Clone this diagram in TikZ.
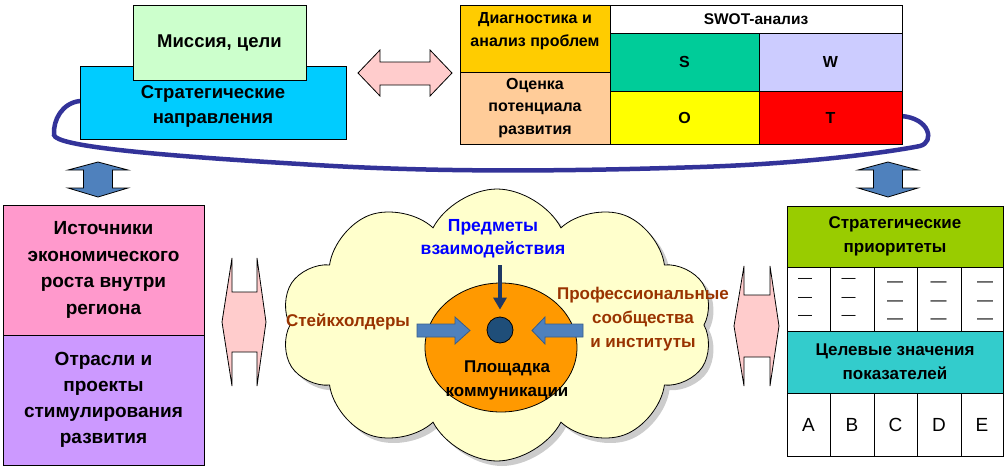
\documentclass[tikz,border=0pt]{standalone}
\usepackage{fontspec}
\setmainfont{Liberation Sans}
\usetikzlibrary{shapes.symbols,shapes.geometric,shadows,arrows.meta}
\definecolor{missionc}{HTML}{CCFFCC}
\definecolor{stratc}{HTML}{00CCFF}
\definecolor{diagc}{HTML}{FFCC00}
\definecolor{ocenc}{HTML}{FFCC99}
\definecolor{sc}{HTML}{00CC99}
\definecolor{wc}{HTML}{CCCCFF}
\definecolor{oc}{HTML}{FFFF00}
\definecolor{tc}{HTML}{FF0000}
\definecolor{istc}{HTML}{FF99CC}
\definecolor{otrc}{HTML}{CC99FF}
\definecolor{pric}{HTML}{99CC00}
\definecolor{celc}{HTML}{33CCCC}
\definecolor{cloudc}{HTML}{FFFFCC}
\definecolor{platc}{HTML}{FF9900}
\definecolor{dotc}{HTML}{1F4E79}
\definecolor{navyc}{HTML}{1F3864}
\definecolor{barrowc}{HTML}{4F81BD}
\definecolor{barrowd}{HTML}{385D8A}
\definecolor{pinkc}{HTML}{FFCCCC}
\definecolor{curvec}{HTML}{333399}
\definecolor{brownc}{HTML}{993300}
\definecolor{bluec}{HTML}{0000FF}
\tikzset{
  cell/.style={draw=black, line width=0.8pt, inner sep=0pt, align=center, font=\bfseries\fontsize{18.5}{25}\selectfont},
  txt/.style={inner sep=0pt, align=center, font=\bfseries\fontsize{17}{24}\selectfont},
  pinkarrow/.style={draw=black, line width=0.8pt, fill=pinkc},
  bluearrow/.style={draw=black, line width=0.8pt, fill=barrowc},
  blockarrow/.style={draw=barrowd, line width=0.8pt, fill=barrowc},
  dashes/.style={inner sep=0pt, align=center, font=\fontsize{14}{18.5}\selectfont},
}
\begin{document}
\begin{tikzpicture}[x=1pt,y=-1pt]
\useasboundingbox (0,0) rectangle (1005,469);

% connecting curve
\coordinate (cstart) at (80,101);
\coordinate (cend) at (901,116);
\draw[curvec, line width=4.5pt, line cap=round]
  (cstart) .. controls (62,103) and (53,120) .. (54,135)
  .. controls (56,146) and (150,155) .. (300,164)
  .. controls (420,172) and (550,172) .. (700,167)
  .. controls (820,163) and (900,150) .. (920,146)
  .. controls (935,142) and (930,118) .. (cend);

% top left
\node[cell, fill=stratc, minimum width=266pt, minimum height=73pt] (strat) at (213,102.5) {\\[-4pt]Стратегические\\направления};
\node[cell, fill=missionc, minimum width=173pt, minimum height=75pt] (mission) at (219.5,42.5) {Миссия, цели};

% top right table
\node[cell, fill=diagc, minimum width=150pt, minimum height=67pt] (diag) at (535,38.5) {};
\node[txt, font=\bfseries\fontsize{16}{23}\selectfont] (diagtxt) at (535,31) {Диагностика и\\анализ проблем};
\node[cell, fill=ocenc, minimum width=150pt, minimum height=72pt, font=\bfseries\fontsize{16}{22.5}\selectfont] (ocen) at (535,108) {Оценка\\потенциала\\развития};
\node[cell, fill=white, minimum width=292pt, minimum height=28pt, font=\bfseries\fontsize{15.5}{20}\selectfont] (swot) at (756,19) {SWOT-анализ};
\node[cell, fill=sc, minimum width=149pt, minimum height=58pt, font=\bfseries\fontsize{16}{20}\selectfont] (S) at (684.5,62) {S};
\node[cell, fill=wc, minimum width=143pt, minimum height=58pt, font=\bfseries\fontsize{16}{20}\selectfont] (W) at (830.5,62) {W};
\node[cell, fill=oc, minimum width=149pt, minimum height=53pt, font=\bfseries\fontsize{16}{20}\selectfont] (O) at (684.5,117.5) {O};
\node[cell, fill=tc, minimum width=143pt, minimum height=53pt, font=\bfseries\fontsize{16}{20}\selectfont] (T) at (830.5,117.5) {T};

% pink horizontal double arrow
\draw[pinkarrow] (358,73) -- (380,50) -- (380,62) -- (430,62) -- (430,50) -- (452,73)
  -- (430,96) -- (430,85) -- (380,85) -- (380,96) -- cycle;

% blue vertical double arrows
\draw[bluearrow] (98,162) -- (128,170) -- (112.5,170) -- (112.5,188) -- (128,188) -- (98,197)
  -- (68,188) -- (83.5,188) -- (83.5,170) -- (68,170) -- cycle;
\draw[bluearrow] (888,162) -- (918,170) -- (902.5,170) -- (902.5,188) -- (918,188) -- (888,197)
  -- (858,188) -- (873.5,188) -- (873.5,170) -- (858,170) -- cycle;

% left boxes
\node[cell, fill=istc, minimum width=201pt, minimum height=130pt, font=\bfseries\fontsize{19}{26.5}\selectfont] (ist) at (103.5,270) {Источники\\экономического\\роста внутри\\региона};
\node[cell, fill=otrc, minimum width=201pt, minimum height=130pt, font=\bfseries\fontsize{19}{26}\selectfont] (otr) at (103.5,400) {Отрасли и\\проекты\\стимулирования\\развития};

% pink vertical-ish double arrows
\draw[pinkarrow] (222,322) -- (232,258) -- (232,292) -- (257,292) -- (257,258) -- (266,322)
  -- (257,386) -- (257,352) -- (232,352) -- (232,386) -- cycle;
\draw[pinkarrow] (734,326) -- (744,266) -- (744,295) -- (770,295) -- (770,266) -- (779,326)
  -- (770,386) -- (770,357) -- (744,357) -- (744,386) -- cycle;

% cloud
\node[cloud, cloud puffs=10, cloud puff arc=125, cloud ignores aspect, minimum width=432pt, minimum height=272pt,
  draw=black, line width=0.8pt, fill=cloudc, drop shadow={shadow xshift=5pt, shadow yshift=-5pt, fill=black!40}] (cloud) at (497,325) {};
\node[ellipse, draw=black, line width=0.8pt, fill=platc, minimum width=152pt, minimum height=129pt] (plat) at (501,347.5) {};
\node[circle, draw=black, line width=0.8pt, fill=dotc, minimum size=26pt, inner sep=0pt] (dot) at (500,330) {};

\node[txt, text=bluec, font=\bfseries\fontsize{17.5}{23}\selectfont] (predm) at (493,238.5) {Предметы\\взаимодействия};
\node[txt, text=brownc] (stake) at (348,322) {Стейкхолдеры};
\node[txt, text=brownc] (prof) at (643,319) {Профессиональные\\сообщества\\и институты};
\node[txt, text=black] (plosh) at (507,380) {Площадка\\коммуникации};

\coordinate (ptop) at (500,265);
\draw[navyc, line width=4pt, -{Triangle[width=13pt,length=12pt]}, shorten >=7pt] (ptop) -- (dot.north);

\draw[blockarrow] (417,324) -- (455,324) -- (455,317) -- (470,330.5) -- (455,344) -- (455,337) -- (417,337) -- cycle;
\draw[blockarrow] (583,324) -- (545,324) -- (545,317) -- (532,330.5) -- (545,344) -- (545,337) -- (583,337) -- cycle;

% right table
\node[cell, fill=pric, minimum width=216pt, minimum height=61pt, font=\bfseries\fontsize{17}{24}\selectfont] (pri) at (895,236.5) {Стратегические\\приоритеты};
\node[cell, fill=celc, minimum width=216pt, minimum height=62pt, font=\bfseries\fontsize{17}{24}\selectfont] (cel) at (895,362) {Целевые значения\\показателей};
\foreach \i/\xa/\xb/\L in {1/787/830/A,2/830/874/B,3/874/917/C,4/917/961/D,5/961/1003/E}{
  \pgfmathsetmacro{\cx}{(\xa+\xb)/2}
  \pgfmathsetmacro{\w}{\xb-\xa}
  \node[cell, fill=white, minimum width=\w pt, minimum height=64pt] (d\i) at (\cx,299) {};
  \node[cell, fill=white, minimum width=\w pt, minimum height=63pt, font=\fontsize{19}{24}\selectfont] (l\i) at (\cx,424.5) {\L};
}
\node[dashes] (t1) at (805,299) {—\\—\\—};
\node[dashes] (t2) at (848.5,299) {—\\—\\—};
\node[dashes, font=\fontsize{16}{18.5}\selectfont] (t3) at (895,303) {—\\—\\—};
\node[dashes, font=\fontsize{16}{18.5}\selectfont] (t4) at (938.5,303) {—\\—\\—};
\node[dashes, font=\fontsize{16}{18.5}\selectfont] (t5) at (985,303) {—\\—\\—};
\end{tikzpicture}
\end{document}
